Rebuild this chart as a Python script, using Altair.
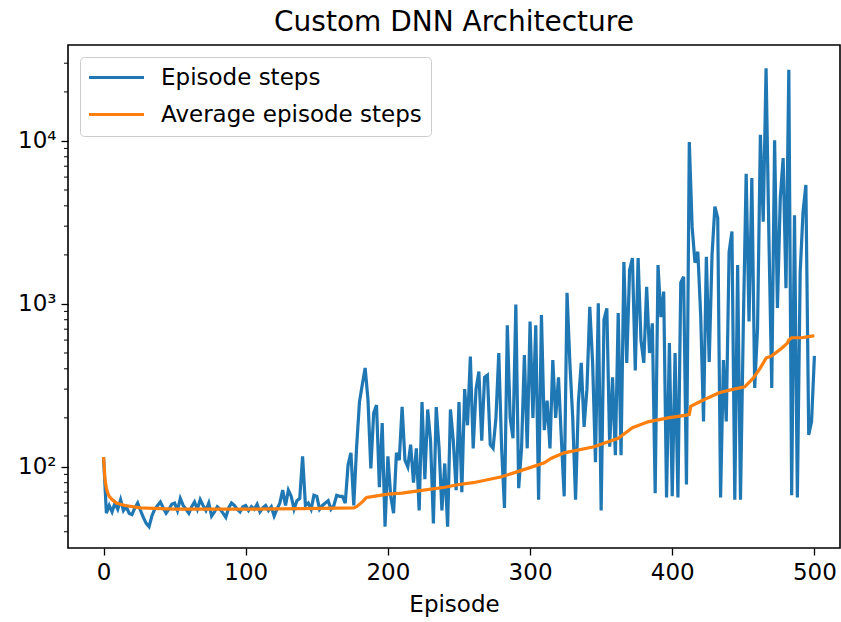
import altair as alt
import pandas as pd

# ---------------- data ----------------
episodes = list(range(0, 501, 2))
episode_steps = [
    115, 52, 58, 53, 60, 55, 63, 54, 57, 52,
    51, 56, 60, 54, 49, 45, 43, 50, 55, 58,
    61, 56, 52, 55, 59, 60, 54, 64, 58, 55,
    52, 57, 61, 55, 63, 58, 54, 60, 50, 53,
    57, 55, 52, 49, 56, 60, 58, 55, 53, 57,
    58, 54, 57, 55, 59, 53, 56, 58, 54, 57,
    50, 55, 60, 72, 58, 72, 66, 55, 62, 64,
    116, 58, 60, 55, 67, 66, 55, 58, 60, 62,
    55, 58, 67, 66, 66, 60, 103, 122, 58, 133,
    250, 320, 405, 258, 98, 214, 240, 75, 186, 43,
    116, 66, 52, 122, 110, 234, 110, 100, 137, 80,
    130, 54, 250, 84, 225, 145, 45, 233, 130, 54,
    105, 43, 225, 145, 72, 250, 70, 300, 180, 475,
    130, 300, 385, 145, 355, 366, 137, 130, 200, 500,
    130, 56, 740, 200, 150, 990, 74, 130, 485, 130,
    780, 200, 740, 63, 855, 168, 255, 130, 453, 200,
    355, 150, 66, 1170, 435, 200, 63, 250, 435, 176,
    300, 960, 435, 107, 1010, 54, 800, 940, 133, 355,
    118, 880, 118, 1810, 435, 1610, 1910, 390, 1910, 600,
    435, 1275, 500, 760, 69, 1730, 830, 1190, 65, 575,
    66, 500, 65, 1350, 1470, 78, 9860, 2970, 1790, 2090,
    855, 190, 1950, 440, 2000, 3950, 3370, 65, 453, 190,
    2090, 2780, 63, 1730, 63, 740, 6300, 780, 5920, 305,
    710, 10900, 3200, 27900, 2550, 305, 10100, 945, 4460, 7850,
    1250, 27300, 67, 3500, 65, 1570, 3670, 5370, 157, 190,
    480,
]

avg_episodes = [0, 1, 2, 3, 4, 6, 9, 15, 26, 50,
                100, 140, 176, 178, 182, 185, 190, 200, 210, 220,
                240, 250, 260, 280, 300, 310, 315, 324, 345, 362,
                372, 383, 397, 410, 412, 413, 419, 425, 433, 441,
                451, 457, 462, 466, 470, 477, 481, 482, 484, 491,
                498, 500]
avg_steps = [115, 84, 74, 69, 66, 63, 60, 58, 56, 55,
             55, 55.5, 56, 57, 61, 65, 66, 68, 69, 71,
             75, 78, 80, 87, 99, 106, 113, 122, 133, 150,
             174, 189, 200, 208, 210, 235, 250, 265, 285, 297,
             310, 350, 405, 465, 480, 535, 575, 600, 620, 620,
             635, 638]

series_names = ["Episode steps", "Average episode steps"]
series_colors = ["#1f77b4", "#ff7f0e"]
x_ticks = [0, 100, 200, 300, 400, 500]
y_ticks = [100, 1000, 10000]
minor_ticks = [40, 50, 60, 70, 80, 90,
               200, 300, 400, 500, 600, 700, 800, 900,
               2000, 3000, 4000, 5000, 6000, 7000, 8000, 9000,
               20000, 30000]

df_steps = pd.DataFrame({"Episode": episodes, "Steps": episode_steps,
                         "Series": series_names[0]})
df_avg = pd.DataFrame({"Episode": avg_episodes, "Steps": avg_steps,
                       "Series": series_names[1]})
df_minor = pd.DataFrame({"Steps": minor_ticks})

FONT = "DejaVu Sans"
x_scale = alt.Scale(domain=[-25, 518], nice=False, zero=False)
y_scale = alt.Scale(type="log", domain=[31.8, 38800], nice=False)
color_scale = alt.Scale(domain=series_names, range=series_colors)

x_axis = alt.Axis(values=x_ticks, title="Episode", grid=False, domain=False,
                  tickColor="black", tickSize=7, tickWidth=1.3,
                  labelFontSize=23, titleFontSize=23, labelFont=FONT,
                  titleFont=FONT, labelColor="black", titleColor="black",
                  titleFontWeight="normal", labelPadding=6, titlePadding=9)
y_axis = alt.Axis(values=y_ticks, title=None, grid=False, domain=False,
                  tickColor="black", tickSize=7, tickWidth=1.3,
                  labelFontSize=23, labelFont=FONT, labelColor="black",
                  labelPadding=5, labelOverlap=False,
                  labelExpr="datum.value == 100 ? '10²' : (datum.value == 1000 ? '10³' : '10⁴')")

legend = alt.Legend(title=None, orient="top-left", offset=12,
                    symbolType="M-2.75,0H2.75", symbolSize=400,
                    symbolStrokeWidth=3, symbolOffset=16,
                    labelFontSize=23, labelFont=FONT, labelColor="black",
                    labelLimit=500,
                    fillColor="white", strokeColor="#cccccc", cornerRadius=4,
                    padding=9, rowPadding=13, labelOffset=33)

steps_line = alt.Chart(df_steps).mark_line(strokeWidth=3.2).encode(
    x=alt.X("Episode:Q", scale=x_scale, axis=x_axis),
    y=alt.Y("Steps:Q", scale=y_scale, axis=y_axis),
    color=alt.Color("Series:N", scale=color_scale, legend=legend),
)

avg_line = alt.Chart(df_avg).mark_line(strokeWidth=3.2).encode(
    x=alt.X("Episode:Q", scale=x_scale, axis=x_axis),
    y=alt.Y("Steps:Q", scale=y_scale, axis=y_axis),
    color=alt.Color("Series:N", scale=color_scale, legend=legend),
)

minor = alt.Chart(df_minor).mark_rule(color="black", strokeWidth=1).encode(
    y=alt.Y("Steps:Q", scale=y_scale, axis=y_axis),
    x=alt.value(-4),
    x2=alt.value(0),
)

chart = alt.layer(steps_line, avg_line, minor).properties(
    width=772,
    height=503,
    title=alt.TitleParams("Custom DNN Architecture", fontSize=28, font=FONT,
                          fontWeight="normal", color="black", offset=8,
                          anchor="middle"),
    view=alt.ViewBackground(stroke="black", strokeWidth=1.6, strokeOpacity=1),
    autosize=alt.AutoSizeParams(type="none"),
    padding={"left": 68, "top": 45, "right": 1, "bottom": 74},
).configure_view(stroke="black", strokeWidth=1.6, strokeOpacity=1).configure(background="white")

chart.save("out.html", embed_options={"renderer": "svg", "actions": False})
